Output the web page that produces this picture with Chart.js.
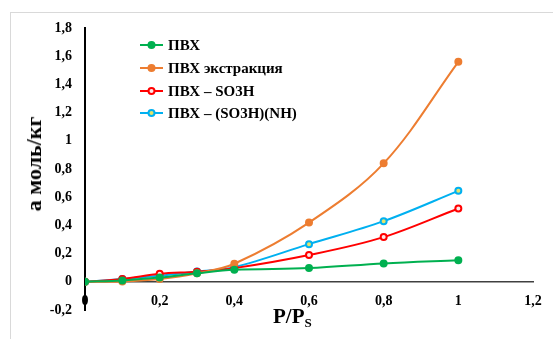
<!DOCTYPE html>
<html>
<head>
<meta charset="utf-8">
<script src="https://cdn.jsdelivr.net/npm/chart.js@4"></script>
<style>
  html, body { margin: 0; padding: 0; background: #fff; }
  #wrap { position: relative; width: 553px; height: 339px; overflow: hidden; }
  #marco { position: absolute; left: 10px; top: 12px; width: 600px; height: 400px;
           border-left: 1px solid #d9d9d9; border-top: 1px solid #d9d9d9; }
  canvas { position: absolute; left: 0; top: 0; }
  .titulo { position: absolute; font-family: "Liberation Serif", "Times New Roman", serif;
            font-weight: bold; color: #000; white-space: nowrap; }
  #tituloY { font-size: 22px; left: 34px; top: 164px; transform: translate(-50%, -50%) rotate(-90deg); }
  #tituloX { font-size: 21px; left: 273px; top: 304px; }
  #tituloX sub { font-size: 13px; vertical-align: -4px; }
</style>
</head>
<body>
<div id="wrap">
  <div id="marco"></div>
  <canvas id="graficoIsotermas" width="553" height="339"></canvas>
  <div class="titulo" id="tituloY">a моль/кг</div>
  <div class="titulo" id="tituloX">P/P<sub>S</sub></div>
</div>
<script>
// Datos
const presionRelativa = [0, 0.1, 0.2, 0.3, 0.4, 0.6, 0.8, 1];
const nombresSeries = ['ПВХ', 'ПВХ экстракция', 'ПВХ – SO3H', 'ПВХ – (SO3H)(NH)'];
const pvh = [0, 0.01, 0.03, 0.06, 0.085, 0.097, 0.13, 0.153];
const pvhExtraccion = [0, 0.003, 0.02, 0.06, 0.128, 0.42, 0.84, 1.56];
const pvhSO3H = [0, 0.02, 0.057, 0.072, 0.097, 0.19, 0.317, 0.52];
const pvhSO3HNH = [0, 0.02, 0.043, 0.073, 0.104, 0.267, 0.43, 0.645];
const ticksY = [-0.2, 0, 0.2, 0.4, 0.6, 0.8, 1, 1.2, 1.4, 1.6, 1.8];
const ticksX = [0, 0.2, 0.4, 0.6, 0.8, 1, 1.2];

const colores = ['#00b050', '#ed7d31', '#ff0000', '#00b0f0'];
const fondos = ['#00b050', '#ed7d31', '#ffe6e6', '#e4e36a'];
const valores = [pvh, pvhExtraccion, pvhSO3H, pvhSO3HNH];

function formatoComa(v) {
    return String(Math.round(v * 10) / 10).replace('.', ',');
}

// leyenda dentro del area del grafico, como en el original
const leyendaInterna = {
    id: 'leyendaInterna',
    afterDraw(chart) {
        const ctx = chart.ctx;
        const filas = [45, 68, 91, 113];
        ctx.save();
        ctx.font = 'bold 15px "Liberation Serif", serif';
        ctx.textBaseline = 'middle';
        chart.data.datasets.forEach((ds, i) => {
            const y = filas[i];
            ctx.strokeStyle = ds.borderColor;
            ctx.lineWidth = 2;
            ctx.beginPath();
            ctx.moveTo(140, y);
            ctx.lineTo(163, y);
            ctx.stroke();
            ctx.beginPath();
            ctx.arc(151.5, y, 3, 0, Math.PI * 2);
            ctx.fillStyle = ds.pointBackgroundColor;
            ctx.fill();
            ctx.stroke();
            ctx.fillStyle = '#000';
            ctx.fillText(ds.label, 168, y + 1);
        });
        ctx.restore();
    }
};

const ctx = document.getElementById('graficoIsotermas').getContext('2d');

new Chart(ctx, {
    type: 'line',
    data: {
        datasets: nombresSeries.map((nombre, i) => ({
            label: nombre,
            data: presionRelativa.map((x, j) => ({ x: x, y: valores[i][j] })),
            borderColor: colores[i],
            backgroundColor: colores[i],
            pointBackgroundColor: fondos[i],
            pointBorderColor: colores[i],
            pointBorderWidth: 2,
            pointRadius: 3,
            borderWidth: 2,
            tension: 0.35,
            fill: false,
        })),
    },
    options: {
        responsive: false,
        animation: false,
        events: [],
        layout: { padding: { top: 28, bottom: 29, left: 10, right: 20 } },
        plugins: { legend: { display: false }, tooltip: { enabled: false } },
        scales: {
            x: {
                type: 'linear',
                min: 0,
                max: 1.2,
                position: { y: 0 },
                afterBuildTicks: (eje) => { eje.ticks = ticksX.map(v => ({ value: v })); },
                grid: { display: false, drawTicks: false },
                border: { display: true, color: '#404040', width: 1.5 },
                ticks: {
                    padding: 11,
                    color: '#000',
                    font: { family: '"Liberation Serif", serif', size: 14, weight: 'bold' },
                    callback: (v) => formatoComa(v),
                },
            },
            y: {
                min: -0.2,
                max: 1.8,
                afterBuildTicks: (eje) => { eje.ticks = ticksY.map(v => ({ value: v })); },
                afterFit: (eje) => { eje.width = 75; },
                grid: { display: false, drawTicks: false },
                border: { display: true, color: '#000', width: 2 },
                ticks: {
                    padding: 13,
                    color: '#000',
                    font: { family: '"Liberation Serif", serif', size: 14, weight: 'bold' },
                    callback: (v) => formatoComa(v),
                },
            },
        },
    },
    plugins: [leyendaInterna],
});
</script>
</body>
</html>
